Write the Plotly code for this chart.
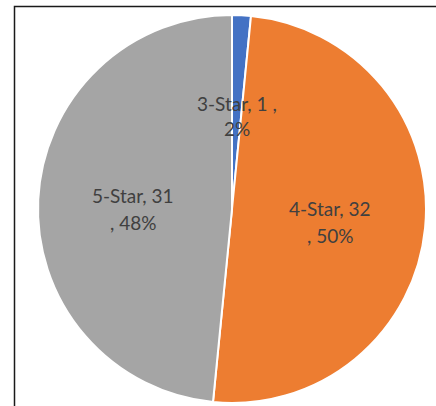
import plotly.graph_objects as go

# Hotel ratings breakdown
categories = ["3-Star", "4-Star", "5-Star"]
counts = [1, 32, 31]
colors = ["#4472C4", "#ED7D31", "#A5A5A5"]

W, H = 436, 406
cx, cy, r = 232, 209, 194  # pie centre and radius in pixels

total = sum(counts)
pcts = [round(100 * c / total) for c in counts]

fig = go.Figure(
    go.Pie(
        labels=categories,
        values=counts,
        sort=False,
        direction="clockwise",
        rotation=0,
        marker=dict(colors=colors, line=dict(color="white", width=2)),
        textinfo="none",
        hoverinfo="label+value+percent",
        showlegend=False,
        domain=dict(x=[(cx - r) / W, (cx + r) / W], y=[1 - (cy + r) / H, 1 - (cy - r) / H]),
    )
)

# data labels, two lines each: "Category, value" / "percentage"
line1 = [f"{categories[0]}, {counts[0]} ,", f"{categories[1]}, {counts[1]}", f"{categories[2]}, {counts[2]}"]
line2 = [f"{pcts[0]}%", f", {pcts[1]}%", f", {pcts[2]}%"]
label_xy = [(237, 103, 128), (330, 208, 235), (133, 195, 222)]

font = dict(family="Lato, Carlito, Calibri, sans-serif", size=19, color="#404040")
for i in range(len(categories)):
    x, y1, y2 = label_xy[i]
    for txt, yy in ((line1[i], y1), (line2[i], y2)):
        fig.add_annotation(
            x=x / W, y=1 - yy / H, xref="paper", yref="paper",
            text=txt, showarrow=False, font=font,
            xanchor="center", yanchor="middle",
        )

# chart frame
fig.add_shape(
    type="rect", xref="paper", yref="paper",
    x0=14.5 / W, y0=-0.05, x1=1.05, y1=1 - 6.5 / H,
    line=dict(color="#1a1a1a", width=1.5), fillcolor="rgba(0,0,0,0)",
)

fig.update_layout(
    width=W, height=H,
    margin=dict(l=0, r=0, t=0, b=0),
    paper_bgcolor="white", plot_bgcolor="white",
)

fig.write_html("out.html")
